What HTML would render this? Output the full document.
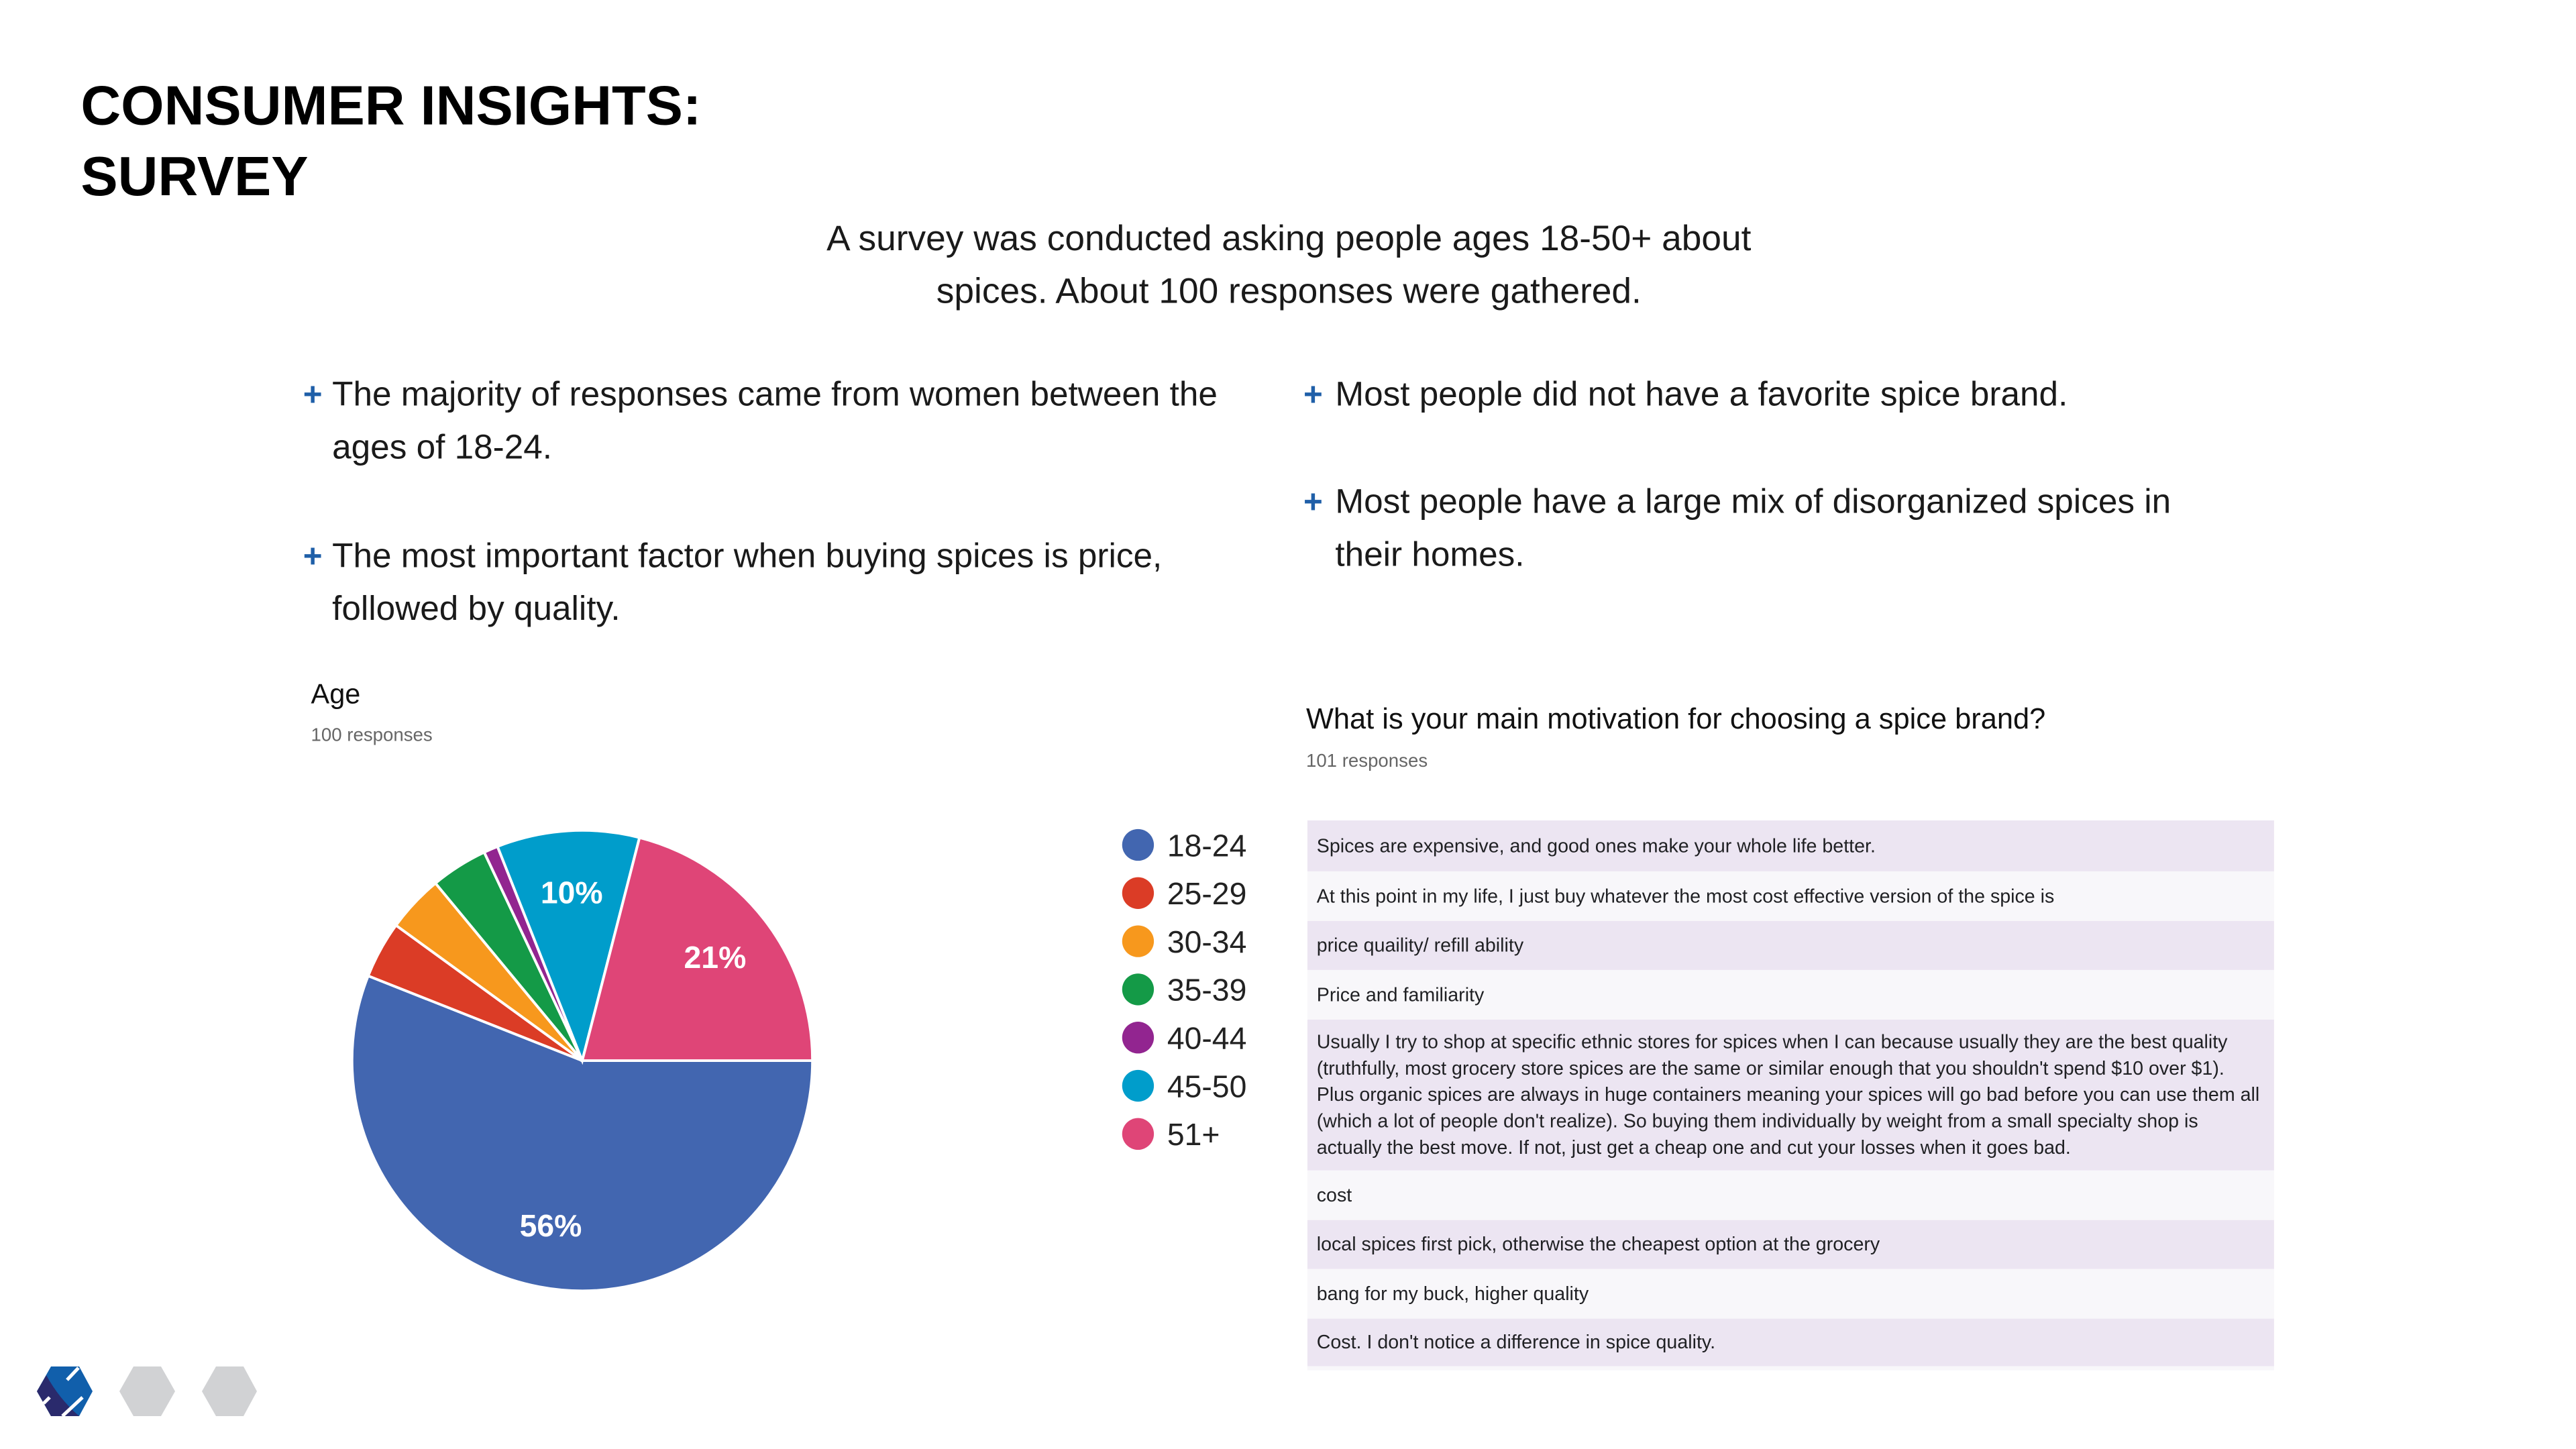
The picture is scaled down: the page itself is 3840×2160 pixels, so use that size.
<!DOCTYPE html>
<html><head><meta charset="utf-8"><style>
body{margin:0;width:3840px;height:2160px;background:#fff;position:relative;overflow:hidden;font-family:"Liberation Sans",sans-serif;color:#111}
#wrap{position:absolute;left:0;top:0;width:3894px;height:2190px;transform:scale(0.9863);transform-origin:0 0}
.a{position:absolute;white-space:nowrap}
.title{left:122px;top:106px;font-size:84px;line-height:107px;font-weight:bold;letter-spacing:0px;color:#000}
.intro{left:0;width:3896px;top:320px;font-size:54px;line-height:80px;text-align:center;color:#1a1a1a}
.bul{font-size:52px;line-height:80px;color:#1a1a1a}
.plus{color:#1f5fa8;font-weight:bold;font-size:50px;line-height:80px}
.row{position:absolute;left:1976px;width:1461px;font-size:29px;color:#202124;box-sizing:border-box;padding-left:14px;display:flex;align-items:center;line-height:40px}
.odd{background:#ece5f2}.even{background:#f8f7fa}
</style></head><body>
<div id="wrap">
<div class="a title">CONSUMER INSIGHTS:<br>SURVEY</div>
<div class="a intro">A survey was conducted asking people ages 18-50+ about<br>spices. About 100 responses were gathered.</div>

<div class="a plus" style="left:458px;top:556px">+</div>
<div class="a bul" style="left:502px;top:556px">The majority of responses came from women between the<br>ages of 18-24.</div>
<div class="a plus" style="left:458px;top:800px">+</div>
<div class="a bul" style="left:502px;top:800px">The most important factor when buying spices is price,<br>followed by quality.</div>
<div class="a plus" style="left:1970px;top:556px">+</div>
<div class="a bul" style="left:2018px;top:556px">Most people did not have a favorite spice brand.</div>
<div class="a plus" style="left:1970px;top:718px">+</div>
<div class="a bul" style="left:2018px;top:718px">Most people have a large mix of disorganized spices in<br>their homes.</div>

<div class="a" style="left:470px;top:1025px;font-size:42px;line-height:48px">Age</div>
<div class="a" style="left:470px;top:1095px;font-size:28px;line-height:32px;color:#666">100 responses</div>

<svg class="a" style="left:0;top:0" width="3840" height="2160" id="pie"></svg>

<div class="a" style="left:1974px;top:1063px;font-size:44px;line-height:48px">What is your main motivation for choosing a spice brand?</div>
<div class="a" style="left:1974px;top:1134px;font-size:28px;line-height:32px;color:#666">101 responses</div>

<div class="row odd" style="top:1240px;height:77px">Spices are expensive, and good ones make your whole life better.</div>
<div class="row even" style="top:1317px;height:75px">At this point in my life, I just buy whatever the most cost effective version of the spice is</div>
<div class="row odd" style="top:1392px;height:74px">price quaility/ refill ability</div>
<div class="row even" style="top:1466px;height:75px">Price and familiarity</div>
<div class="row odd" style="top:1541px;height:228px;white-space:nowrap">Usually I try to shop at specific ethnic stores for spices when I can because usually they are the best quality<br>(truthfully, most grocery store spices are the same or similar enough that you shouldn't spend $10 over $1).<br>Plus organic spices are always in huge containers meaning your spices will go bad before you can use them all<br>(which a lot of people don't realize). So buying them individually by weight from a small specialty shop is<br>actually the best move. If not, just get a cheap one and cut your losses when it goes bad.</div>
<div class="row even" style="top:1769px;height:75px">cost</div>
<div class="row odd" style="top:1844px;height:74px">local spices first pick, otherwise the cheapest option at the grocery</div>
<div class="row even" style="top:1918px;height:75px">bang for my buck, higher quality</div>
<div class="row odd" style="top:1993px;height:72px">Cost. I don't notice a difference in spice quality.</div>
<div class="row even" style="top:2065px;height:6px"></div>
</div>

<svg class="a" style="left:0;top:0" width="420" height="2160">
  <g>
    <polygon points="76,2037 118,2037 138,2074 118,2111 76,2111 55,2074" fill="#115fab"/>
    <path d="M69,2050 L55,2074 L76,2111 L118,2111 Q88,2085 69,2050 Z" fill="#2a2a6c"/>
    <line x1="100" y1="2057" x2="117" y2="2039" stroke="#fff" stroke-width="5"/>
    <line x1="93" y1="2111" x2="123" y2="2083" stroke="#fff" stroke-width="5"/>
    <line x1="65" y1="2092" x2="74" y2="2083" stroke="#fff" stroke-width="5"/>
  </g>
  <polygon points="199,2037 240,2037 261,2074 240,2111 199,2111 178,2074" fill="#d1d2d4"/>
  <polygon points="322,2037 363,2037 383,2074 363,2111 322,2111 301,2074" fill="#d1d2d4"/>
</svg>

<script>
const categories = ["18-24","25-29","30-34","35-39","40-44","45-50","51+"];
const values = [56,4,4,4,1,10,21];
const colors = ["#4266b0","#db3c26","#f7981d","#149a47","#922590","#009dcb","#df4577"];
const shownLabels = [true,false,false,false,false,true,true];

const svg = document.getElementById('pie');
const NS = 'http://www.w3.org/2000/svg';
const cx = 880, cy = 1603, r = 348;
const total = values.reduce((a,b)=>a+b,0);
function pt(angDeg, rad){ const a = angDeg*Math.PI/180; return [cx + rad*Math.sin(a), cy - rad*Math.cos(a)]; }
let start = 90;
values.forEach((v,i)=>{
  const sweep = v/total*360, end = start+sweep;
  const p1 = pt(start,r), p2 = pt(end,r);
  const path = document.createElementNS(NS,'path');
  path.setAttribute('d', `M${cx},${cy} L${p1[0]},${p1[1]} A${r},${r} 0 ${sweep>180?1:0} 1 ${p2[0]},${p2[1]} Z`);
  path.setAttribute('fill', colors[i]);
  path.setAttribute('stroke', '#fff');
  path.setAttribute('stroke-width', '4');
  
  
  svg.appendChild(path);
  if (shownLabels[i]) {
    const m = pt(start+sweep/2, r*0.73);
    const t = document.createElementNS(NS,'text');
    t.setAttribute('x', m[0]); t.setAttribute('y', m[1]+16);
    t.setAttribute('text-anchor','middle');
    t.setAttribute('font-size','47'); t.setAttribute('font-weight','bold');
    t.setAttribute('fill','#fff'); t.setAttribute('font-family','Liberation Sans, sans-serif');
    t.textContent = Math.round(v/total*100) + '%';
    
    
    svg.appendChild(t);
  }
  start = end;
});
categories.forEach((c,i)=>{
  const y = 1277 + i*72.8;
  const dot = document.createElementNS(NS,'circle');
  dot.setAttribute('cx', 1720); dot.setAttribute('cy', y); dot.setAttribute('r', 24);
  dot.setAttribute('fill', colors[i]);
  
  
  svg.appendChild(dot);
  const t = document.createElementNS(NS,'text');
  t.setAttribute('x', 1764); t.setAttribute('y', y+17);
  t.setAttribute('font-size','47'); t.setAttribute('fill','#222');
  t.setAttribute('font-family','Liberation Sans, sans-serif');
  t.textContent = c;
  
  
  svg.appendChild(t);
});
</script>
</body></html>
